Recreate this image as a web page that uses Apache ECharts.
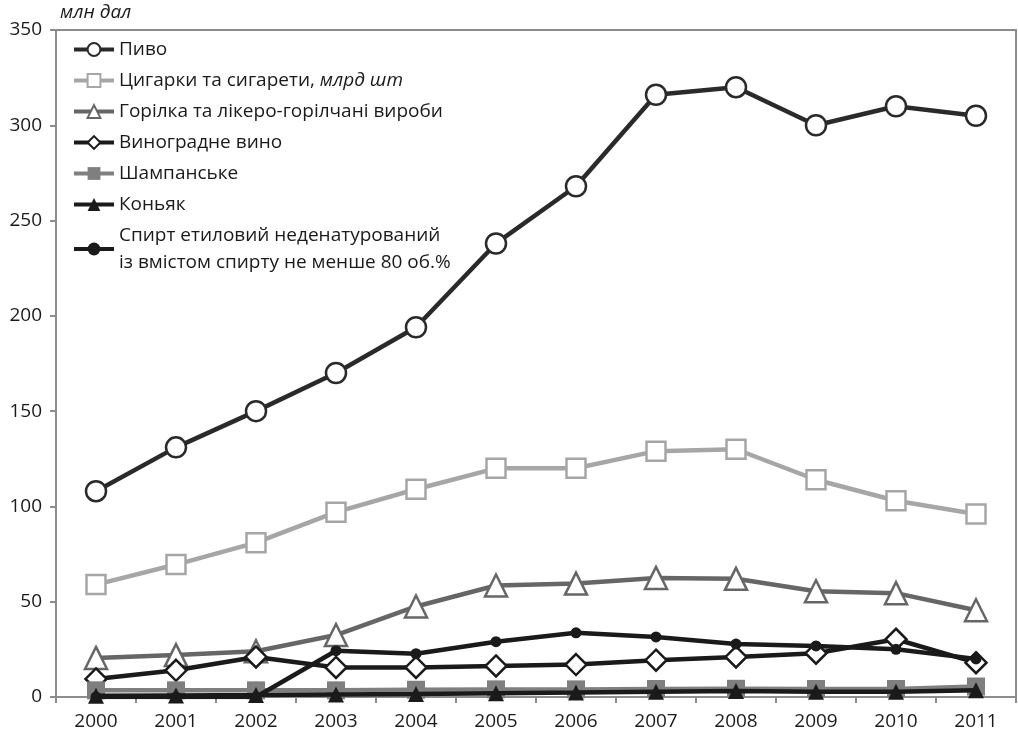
<!DOCTYPE html>
<html>
<head>
<meta charset="utf-8">
<script src="https://cdn.jsdelivr.net/npm/echarts@6/dist/echarts.min.js"></script>
<style>
  html, body { margin: 0; padding: 0; background: #fff; }
  #chart { width: 1018px; height: 741px; }
</style>
</head>
<body>
<div id="chart"></div>
<script>
// Years on the category axis
const years = ['2000', '2001', '2002', '2003', '2004', '2005', '2006', '2007', '2008', '2009', '2010', '2011'];

// Production volumes, mln dal (cigarettes in bn pcs)
const beer      = [108, 131, 150, 170, 194, 238, 268, 316, 320, 300, 310, 305];
const cigarettes = [59, 69.5, 81, 97, 109, 120, 120, 129, 130, 114, 103, 96];
const vodka     = [20.5, 22, 24, 32.5, 47.5, 58.5, 59.5, 62.5, 62, 55.5, 54.5, 45.5];
const wine      = [9.5, 14, 21, 15.5, 15.5, 16.3, 17, 19.3, 21, 23, 30.3, 18];
const champagne = [3.5, 3.5, 3.5, 3.5, 3.8, 4, 4, 4.2, 4.3, 4.2, 4.2, 5.5];
const cognac    = [0.6, 0.8, 1.0, 1.3, 1.6, 2.0, 2.3, 2.8, 3.2, 2.7, 2.8, 3.5];
const spirit    = [0, 0, 0, 24.3, 22.7, 29, 33.7, 31.5, 27.8, 26.8, 25, 20];

// Y axis ticks
const yMin = 0, yMax = 350, yStep = 50;

// Series names shown in the legend
const names = [
  'Пиво',
  'Цигарки та сигарети, млрд шт',
  'Горілка та лікеро-горілчані вироби',
  'Виноградне вино',
  'Шампанське',
  'Коньяк',
  'Спирт етиловий неденатурований\nіз вмістом спирту не менше 80 об.%'
];

const FONT = '"Open Sans", "Noto Sans", sans-serif';
const FS = 19;
const TEXT = '#1a1a1a';
const AXIS = '#8c8c8c';

function lineSeries(name, data, color, symbol, size, fill, z) {
  return {
    name: name,
    type: 'line',
    data: data,
    symbol: symbol,
    symbolSize: size,
    z: z,
    lineStyle: { color: color, width: 4.5 },
    itemStyle: { color: fill, borderColor: color, borderWidth: fill === color ? 0 : 2.5 },
    emphasis: { disabled: true },
    animation: false
  };
}

const chart = echarts.init(document.getElementById('chart'), null, { renderer: 'canvas' });

chart.setOption({
  backgroundColor: '#fff',
  animation: false,
  grid: {
    left: 56, right: 2, top: 30, bottom: 44,
    show: true, borderColor: AXIS, borderWidth: 2, backgroundColor: 'transparent'
  },
  legend: {
    orient: 'vertical',
    left: 67,
    top: 31,
    itemWidth: 40,
    itemHeight: 16,
    itemGap: 4,
    selectedMode: false,
    lineStyle: { width: 4 },
    textStyle: {
      fontFamily: FONT, fontSize: FS, color: TEXT, lineHeight: 27,
      rich: {
        n: { fontFamily: FONT, fontSize: FS, color: TEXT, lineHeight: 27 },
        i: { fontFamily: FONT, fontSize: FS, color: TEXT, fontStyle: 'italic', lineHeight: 27 }
      }
    },
    formatter: function (name) {
      const m = name.match(/^(.*, )(млрд шт)$/);
      if (m) return '{n|' + m[1] + '}{i|' + m[2] + '}';
      return name;
    },
    data: names
  },
  xAxis: {
    type: 'category',
    data: years,
    boundaryGap: true,
    axisLine: { lineStyle: { color: AXIS, width: 2 } },
    axisTick: { show: true, inside: false, length: 6, lineStyle: { color: AXIS, width: 2 } },
    axisLabel: { fontFamily: FONT, fontSize: FS, color: TEXT, margin: 15 },
    splitLine: { show: false }
  },
  yAxis: {
    type: 'value',
    min: yMin, max: yMax, interval: yStep,
    name: 'млн дал',
    nameLocation: 'end',
    nameGap: 8,
    nameTextStyle: { fontFamily: FONT, fontSize: FS, color: TEXT, fontStyle: 'italic', align: 'left', padding: [0, 0, 0, 4] },
    axisLine: { show: true, lineStyle: { color: AXIS, width: 2 } },
    axisTick: { show: true, length: 6, lineStyle: { color: AXIS, width: 2 } },
    axisLabel: { fontFamily: FONT, fontSize: FS, color: TEXT, margin: 14 },
    splitLine: { show: false }
  },
  series: [
    lineSeries(names[0], beer, '#2a2a2a', 'circle', 20, '#fff', 7),
    lineSeries(names[1], cigarettes, '#a6a6a6', 'rect', 19, '#fff', 2),
    lineSeries(names[2], vodka, '#666666', 'triangle', 22, '#fff', 3),
    lineSeries(names[3], wine, '#1a1a1a', 'diamond', 21, '#fff', 4),
    lineSeries(names[4], champagne, '#7f7f7f', 'rect', 18, '#7f7f7f', 5),
    lineSeries(names[5], cognac, '#1a1a1a', 'triangle', 16, '#1a1a1a', 6),
    lineSeries(names[6], spirit, '#1a1a1a', 'circle', 11, '#1a1a1a', 6)
  ]
});
</script>
</body>
</html>
